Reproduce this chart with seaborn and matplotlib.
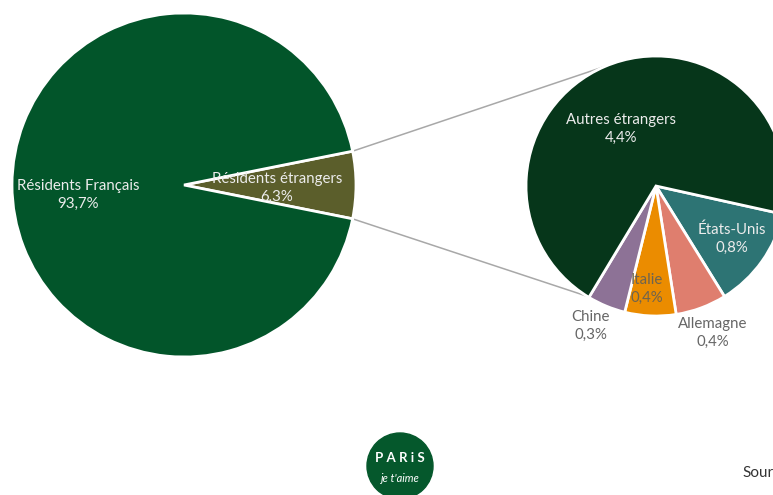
import numpy as np
import matplotlib
matplotlib.use("Agg")
import matplotlib.pyplot as plt
import seaborn as sns
from matplotlib.patches import Circle

# ---- data ----
main_labels = ["Résidents étrangers", "Résidents Français"]
main_values = [6.3, 93.7]
main_text = ["6,3%", "93,7%"]

sub_labels = ["États-Unis", "Allemagne", "Italie", "Chine", "Autres étrangers"]
sub_values = [0.8, 0.4, 0.4, 0.3, 4.4]
sub_text = ["0,8%", "0,4%", "0,4%", "0,3%", "4,4%"]

# ---- style ----
sns.set_theme(style="white")
plt.rcParams['font.family'] = ['Lato', 'DejaVu Sans']

main_colors = ["#5b5e2b", "#02552a"]
sub_colors = ["#2d7474", "#df7e6e", "#eb8c00", "#8d7296", "#06361a"]

W, H = 773, 495
fig = plt.figure(figsize=(W / 100, H / 100), dpi=100)
ax = fig.add_axes([0, 0, 1, 1])

c1 = (184, H - 185); r1 = 172
c2 = (656, H - 186); r2 = 130

wp = dict(edgecolor="white", linewidth=2)

# main pie: foreign residents wedge centred on the right
start1 = -360 * main_values[0] / sum(main_values) / 2
ax.pie(main_values, colors=main_colors, startangle=start1, counterclock=True,
       center=c1, radius=r1, wedgeprops=wp, frame=True)

# secondary pie
ax.pie(sub_values, colors=sub_colors, startangle=347.5, counterclock=False,
       center=c2, radius=r2, wedgeprops=wp, frame=True)

# connector lines
a_top = np.deg2rad(-start1)
a_bot = np.deg2rad(start1)
b_top = np.deg2rad(113)
b_bot = np.deg2rad(238)
line_kw = dict(color="#a8a8a8", lw=1.1, zorder=0)
ax.plot([c1[0] + r1 * np.cos(a_top), c2[0] + r2 * np.cos(b_top)],
        [c1[1] + r1 * np.sin(a_top), c2[1] + r2 * np.sin(b_top)], **line_kw)
ax.plot([c1[0] + r1 * np.cos(a_bot), c2[0] + r2 * np.cos(b_bot)],
        [c1[1] + r1 * np.sin(a_bot), c2[1] + r2 * np.sin(b_bot)], **line_kw)

fs = 10.8
light = "#ececec"
grey = "#666666"
ls = 1.35

# labels main pie
ax.text(78, H - 195, f"{main_labels[1]}\n{main_text[1]}", ha="center", va="center",
        color=light, fontsize=fs, linespacing=ls)
ax.text(277, H - 188, f"{main_labels[0]}\n{main_text[0]}", ha="center", va="center",
        color=light, fontsize=fs, linespacing=ls)

# labels sub pie
sub_pos = {
    "Autres étrangers": (621, 129, light),
    "États-Unis": (732, 239, light),
    "Italie": (647, 289, "#6e6450"),
    "Allemagne": (713, 333, grey),
    "Chine": (591, 326, grey),
}
for lab, txt in zip(sub_labels, sub_text):
    x, y, col = sub_pos[lab]
    ax.text(x, H - y, f"{lab}\n{txt}", ha="center", va="center", color=col,
            fontsize=fs, linespacing=ls)

# logo
ax.add_patch(Circle((400, H - 466), 33, color="#05582c", zorder=3))
ax.text(400, H - 458, "P A R i S", ha="center", va="center", color="white",
        fontsize=9.5, fontweight="bold", zorder=4)
ax.text(400, H - 478, "je t'aime", ha="center", va="center", color="white",
        fontsize=8, style="italic", zorder=4)

# source (cut off at right edge in the reference)
ax.text(742, H - 473, "Sour", ha="left", va="center", color="#333333", fontsize=11)

ax.set_xlim(0, W)
ax.set_ylim(0, H)
ax.set_aspect("auto")
ax.set_axis_off()

fig.savefig("out.png", dpi=100)
